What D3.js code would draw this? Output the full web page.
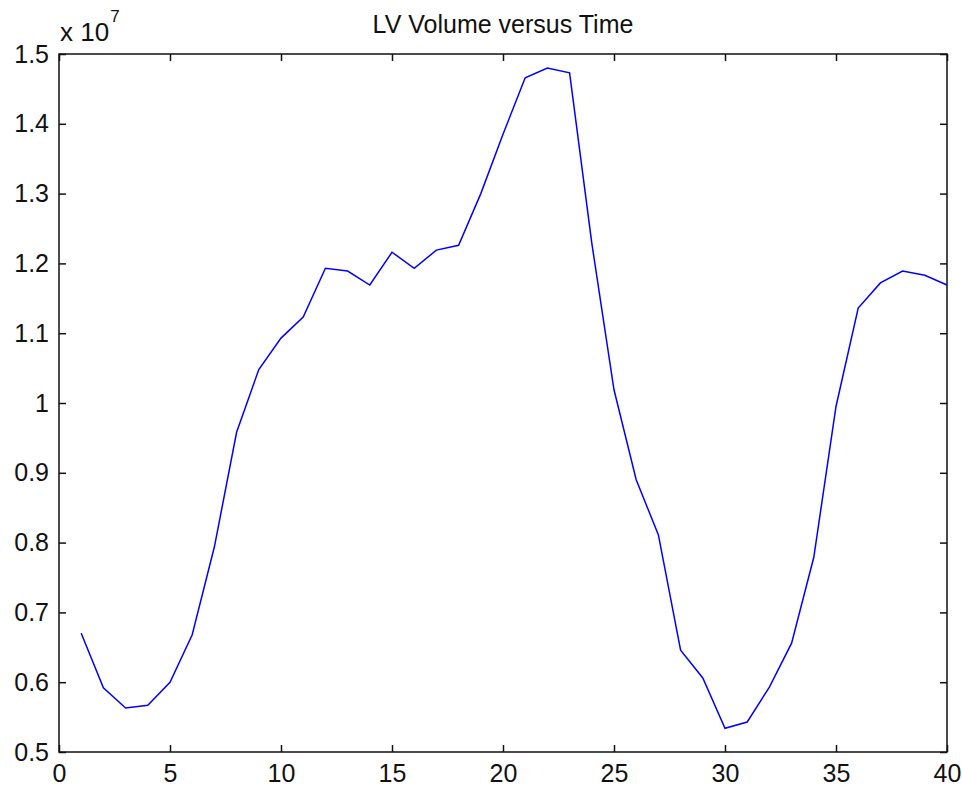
<!DOCTYPE html>
<html>
<head>
<meta charset="utf-8">
<script src="https://cdn.jsdelivr.net/npm/d3@7"></script>
<style>
  body { margin: 0; background: #fff; }
  text { font-family: "Liberation Sans", Arial, sans-serif; fill: #111; }
</style>
</head>
<body>
<div id="graf"></div>
<script>
// Datos (volumen en unidades de 1e7)
const tiempo = d3.range(1, 41)
const volumen = [
  0.670, 0.592, 0.563, 0.567, 0.600, 0.668, 0.794, 0.958, 1.048, 1.093,
  1.123, 1.193, 1.189, 1.169, 1.216, 1.193, 1.219, 1.226, 1.300, 1.385,
  1.466, 1.480, 1.473, 1.229, 1.019, 0.890, 0.811, 0.646, 0.606, 0.534,
  0.543, 0.593, 0.656, 0.779, 0.995, 1.136, 1.172, 1.189, 1.183, 1.169
]
const xTicks = [0, 5, 10, 15, 20, 25, 30, 35, 40]
const yTicks = [0.5, 0.6, 0.7, 0.8, 0.9, 1, 1.1, 1.2, 1.3, 1.4, 1.5]
const titulo = "LV Volume versus Time"

const data = tiempo.map((t, i) => ({ t, v: volumen[i] }))

// Dimensiones
const anchoTotal = 962
const altoTotal = 787
const margins = { top: 54, right: 15, bottom: 35, left: 59 }
const ancho = anchoTotal - margins.left - margins.right
const alto = altoTotal - margins.top - margins.bottom

const svg = d3.select("#graf").append("svg")
  .attr("width", anchoTotal)
  .attr("height", altoTotal)

const g = svg.append("g")
  .attr("transform", `translate(${margins.left}, ${margins.top})`)

// Escaladores
const x = d3.scaleLinear().domain([0, 40]).range([0, ancho])
const y = d3.scaleLinear().domain([0.5, 1.5]).range([alto, 0])

// Ejes (ticks hacia dentro, en los cuatro lados)
const tick = 7
const estiloEje = (sel) => {
  sel.select(".domain").remove()
  sel.selectAll(".tick line").attr("stroke", "#111").attr("stroke-width", 1.5)
  sel.selectAll(".tick text").style("font-size", "25px")
}

g.append("g")
  .attr("transform", `translate(0,${alto})`)
  .call(d3.axisBottom(x).tickValues(xTicks).tickSizeInner(-tick).tickSizeOuter(0).tickPadding(12).tickFormat(d3.format("d")))
  .call(estiloEje)

g.append("g")
  .call(d3.axisTop(x).tickValues(xTicks).tickSizeInner(-tick).tickSizeOuter(0).tickFormat(""))
  .call(estiloEje)

g.append("g")
  .call(d3.axisLeft(y).tickValues(yTicks).tickSizeInner(-tick).tickSizeOuter(0).tickPadding(10).tickFormat(d => d === 1 ? "1" : d3.format(".1f")(d)))
  .call(estiloEje)

g.append("g")
  .attr("transform", `translate(${ancho},0)`)
  .call(d3.axisRight(y).tickValues(yTicks).tickSizeInner(-tick).tickSizeOuter(0).tickFormat(""))
  .call(estiloEje)

// Caja
g.append("rect")
  .attr("width", ancho)
  .attr("height", alto)
  .attr("fill", "none")
  .attr("stroke", "#111")
  .attr("stroke-width", 1.5)

// Línea
const linea = d3.line()
  .x(d => x(d.t))
  .y(d => y(d.v))

g.append("path")
  .datum(data)
  .attr("fill", "none")
  .attr("stroke", "#0000ff")
  .attr("stroke-width", 1.5)
  .attr("d", linea)

// Titulo
svg.append("text")
  .attr("x", margins.left + ancho / 2)
  .attr("y", 33)
  .attr("text-anchor", "middle")
  .style("font-size", "25px")
  .text(titulo)

// Exponente
const expo = svg.append("text")
  .attr("x", 60)
  .attr("y", 41)
  .style("font-size", "26px")
expo.append("tspan").text("x 10")
expo.append("tspan").attr("dx", 1).attr("dy", -19).style("font-size", "17px").text("7")
</script>
</body>
</html>
